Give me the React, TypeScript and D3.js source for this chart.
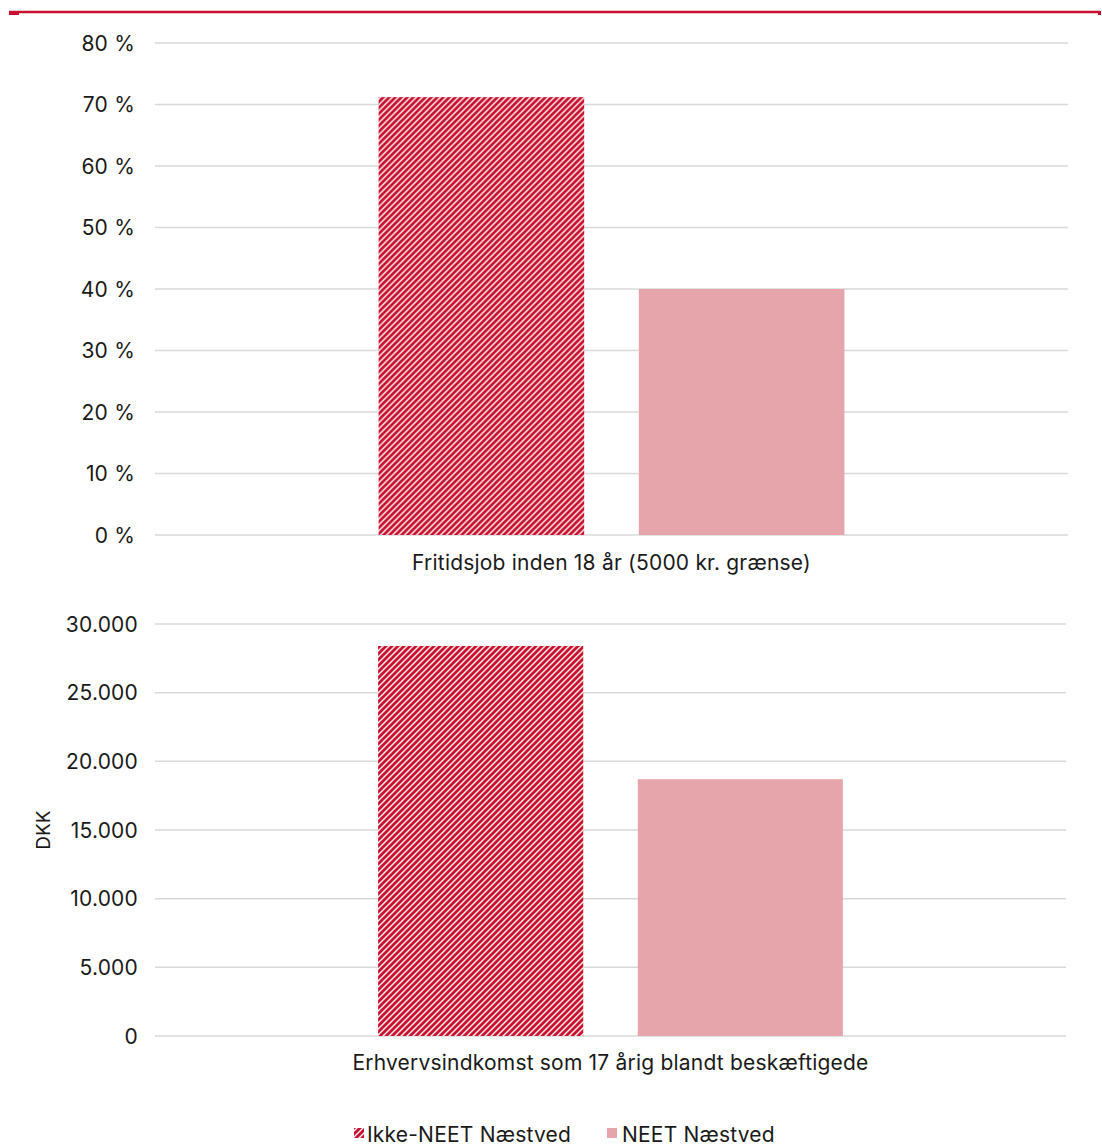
import React from "react";
import * as d3 from "d3";

const series = ["Ikke-NEET Næstved", "NEET Næstved"];
const topCategory = ["Fritidsjob inden 18 år (5000 kr. grænse)"];
const topValues = [0.712, 0.40];
const topTicks = [0, 0.1, 0.2, 0.3, 0.4, 0.5, 0.6, 0.7, 0.8];
const bottomCategory = ["Erhvervsindkomst som 17 årig blandt beskæftigede"];
const bottomValues = [28400, 18700];
const bottomTicks = [0, 5000, 10000, 15000, 20000, 25000, 30000];
const bottomAxisLabel = "DKK";

const RED = "#C8102E";
const PINK = "#E6A4AB";
const GRID = "#D9D9D9";
const FONT = "Inter, 'Noto Sans', sans-serif";
const FS = 21;
const LS = 0.2;

const locale = d3.formatLocale({ decimal: ",", thousands: ".", grouping: [3], currency: ["", " kr."] });
const fmtThousands = locale.format(",.0f");
const fmtPct = (v: number) => `${Math.round(v * 100)} %`;

function Panel({ categories, values, ticks, yTop, yBottom, gridRight, labelRight, fmt, catY }: any) {
  const y = d3.scaleLinear().domain([ticks[0], ticks[ticks.length - 1]]).range([yBottom, yTop]);
  const x0 = d3.scaleBand<string>().domain(categories).range([155, gridRight]).paddingInner(0).paddingOuter(0.48);
  const x1 = d3.scaleBand<string>().domain(series).range([0, x0.bandwidth()]).paddingInner(0.21).paddingOuter(0);
  return (
    <g>
      {ticks.map((t: number) => (
        <g key={t}>
          <line x1={155} x2={gridRight} y1={y(t)} y2={y(t)} stroke={GRID} strokeWidth={1.5} />
          <text x={labelRight} y={y(t)} dy="0.36em" textAnchor="end" fontSize={FS} letterSpacing={LS} fill="#1a1a1a">{fmt(t)}</text>
        </g>
      ))}
      {categories.map((c: string) => (
        <g key={c} transform={`translate(${x0(c)},0)`}>
          {series.map((s, i) => (
            <rect key={s} x={x1(s)} width={x1.bandwidth()} y={y(values[i])} height={y(0) - y(values[i])}
              fill={i === 0 ? "url(#hatch)" : PINK} />
          ))}
          <text x={x0.bandwidth() / 2} y={catY} textAnchor="middle" fontSize={FS} letterSpacing={LS} fill="#1a1a1a">{c}</text>
        </g>
      ))}
    </g>
  );
}

export default function App() {
  return (
    <svg width={1102} height={1144} style={{ position: "absolute", left: 0, top: 0, background: "#fff" }} fontFamily={FONT}>
      <defs>
        <pattern id="hatch" patternUnits="userSpaceOnUse" width={6} height={6}>
          <rect width={6} height={6} fill="#fff" />
          <path d="M-1.5,1.5 L1.5,-1.5 M0,6 L6,0 M4.5,7.5 L7.5,4.5" stroke={RED} strokeWidth={2.9} />
        </pattern>
      </defs>
      <rect x={0} y={0} width={1102} height={1144} fill="#fff" />
      <line x1={9} x2={1100} y1={12} y2={12} stroke={RED} strokeWidth={2.5} />
      <rect x={9} y={11} width={10} height={4} fill={RED} />
      <rect x={1098} y={11} width={3} height={4} fill={RED} />
      <Panel categories={topCategory} values={topValues} ticks={topTicks} yTop={43} yBottom={535}
        gridRight={1068} labelRight={135} fmt={fmtPct} catY={570} />
      <Panel categories={bottomCategory} values={bottomValues} ticks={bottomTicks} yTop={624} yBottom={1036}
        gridRight={1066} labelRight={138} fmt={fmtThousands} catY={1070} />
      <text transform="translate(50,830) rotate(-90)" textAnchor="middle" fontSize={FS - 2} fill="#1a1a1a">{bottomAxisLabel}</text>
      <g>
        <rect x={354} y={1128} width={10} height={10} fill="url(#hatch)" />
        <text x={367} y={1141.5} fontSize={FS} letterSpacing={LS} fill="#1a1a1a">{series[0]}</text>
        <rect x={607} y={1128} width={10} height={10} fill={PINK} />
        <text x={622} y={1141.5} fontSize={FS} letterSpacing={LS} fill="#1a1a1a">{series[1]}</text>
      </g>
    </svg>
  );
}
